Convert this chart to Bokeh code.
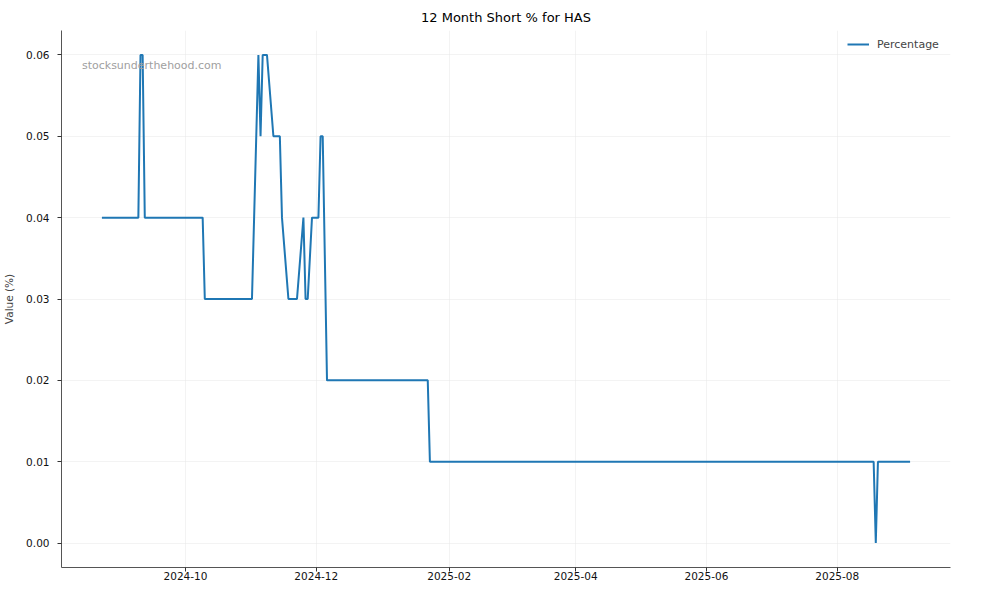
import pandas as pd
from bokeh.plotting import figure
from bokeh.models import (Range1d, FixedTicker, DatetimeTickFormatter, NumeralTickFormatter,
                          Label, Legend, LegendItem, ColumnDataSource)
from bokeh.embed import file_html
from bokeh.resources import INLINE

# ---- data (vertices) ----
dates = [
    "2024-08-23", "2024-09-09", "2024-09-10", "2024-09-11", "2024-09-12",
    "2024-10-09", "2024-10-10", "2024-11-01", "2024-11-04", "2024-11-05",
    "2024-11-06", "2024-11-08", "2024-11-11", "2024-11-14", "2024-11-15",
    "2024-11-18", "2024-11-22", "2024-11-25", "2024-11-26", "2024-11-27",
    "2024-11-29", "2024-12-02", "2024-12-03", "2024-12-04", "2024-12-06",
    "2025-01-22", "2025-01-23", "2025-08-18", "2025-08-19", "2025-08-20",
    "2025-09-04",
]
percentage = [
    0.04, 0.04, 0.06, 0.06, 0.04,
    0.04, 0.03, 0.03, 0.06, 0.05,
    0.06, 0.06, 0.05, 0.05, 0.04,
    0.03, 0.03, 0.04, 0.03, 0.03,
    0.04, 0.04, 0.05, 0.05, 0.02,
    0.02, 0.01, 0.01, 0.00, 0.01,
    0.01,
]
x_tick_labels = ["2024-10", "2024-12", "2025-02", "2025-04", "2025-06", "2025-08"]
y_ticks = [0.00, 0.01, 0.02, 0.03, 0.04, 0.05, 0.06]

title_text = "12 Month Short % for HAS"
series_name = "Percentage"
y_label = "Value (%)"
watermark = "stocksunderthehood.com"

# ---- build ----
dt = pd.to_datetime(dates)
src = ColumnDataSource(dict(x=dt, y=percentage))

x0, x1 = dt.min(), dt.max()
xpad = (x1 - x0) * 0.05
ymin, ymax = min(percentage), max(percentage)
ypad = (ymax - ymin) * 0.05

p = figure(width=984, height=584, x_axis_type="datetime",
           output_backend="svg", toolbar_location=None,
           x_range=Range1d(x0 - xpad, x1 + xpad),
           y_range=Range1d(ymin - ypad, ymax + ypad),
           min_border_left=60, min_border_right=34,
           min_border_top=30, min_border_bottom=17)

p.title.text = title_text
p.title.align = "center"
p.title.vertical_align = "top"
p.title.text_font = "DejaVu Sans"
p.title.text_font_size = "13px"
p.title.text_font_style = "normal"
p.title.text_color = "#000000"
p.title.standoff = 8
p.title.offset = 0

FONT = "DejaVu Sans"
for ax in (p.xaxis[0], p.yaxis[0]):
    ax.major_label_text_font = FONT
    ax.major_label_text_font_size = "10.5px"
    ax.major_label_text_color = "#111111"
    ax.axis_line_color = "#555555"
    ax.major_tick_line_color = "#333333"
    ax.major_tick_out = 4
    ax.major_tick_in = 0
    ax.minor_tick_line_color = None
    ax.axis_label_text_font = FONT
    ax.axis_label_text_font_size = "10.5px"
    ax.axis_label_text_font_style = "normal"
p.xaxis.major_label_standoff = 0
p.yaxis.major_label_standoff = 8

tick_ms = [pd.Timestamp(t + "-01").value // 10**6 for t in x_tick_labels]
p.xaxis.ticker = FixedTicker(ticks=tick_ms)
fmt = "%Y-%m"
p.xaxis.formatter = DatetimeTickFormatter(years=fmt, months=fmt, days=fmt, hours=fmt,
                                          minutes=fmt, seconds=fmt, milliseconds=fmt,
                                          microseconds=fmt, hourmin=fmt, minsec=fmt)
p.yaxis.ticker = FixedTicker(ticks=y_ticks)
p.yaxis.formatter = NumeralTickFormatter(format="0.00")
p.yaxis.axis_label = y_label
p.yaxis.axis_label_standoff = 8

p.outline_line_color = None
p.xgrid.grid_line_color = "#e8e8e8"
p.ygrid.grid_line_color = "#e8e8e8"
p.xgrid.grid_line_alpha = 0.5
p.ygrid.grid_line_alpha = 0.5

r = p.line("x", "y", source=src, line_color="#1f77b4", line_width=2)

legend = Legend(items=[LegendItem(label=series_name, renderers=[r])],
                location="top_right", border_line_alpha=0, background_fill_alpha=0,
                label_text_font=FONT, label_text_font_size="11px",
                glyph_width=22, label_standoff=8, label_width=69,
                padding=4, margin=0, spacing=0)
p.add_layout(legend)

xr = p.x_range
wx = xr.start + (xr.end - xr.start) * 0.023
wy = p.y_range.start + (p.y_range.end - p.y_range.start) * 0.935
p.add_layout(Label(x=wx, y=wy, text=watermark, text_font=FONT, text_font_size="11px",
                   text_color="#a0a0a0", text_baseline="middle"))

open("out.html", "w").write(file_html(p, INLINE))
